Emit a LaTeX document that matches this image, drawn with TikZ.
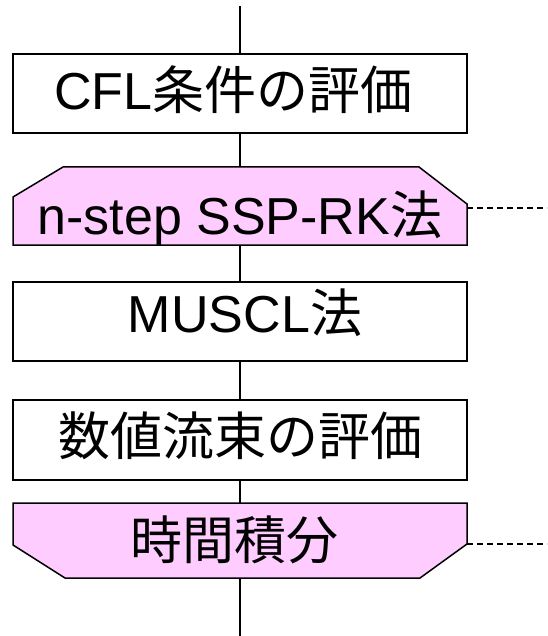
\documentclass[tikz,border=0pt]{standalone}
\usepackage{fontspec}
\setmainfont{Liberation Sans}
\newfontfamily\jp{Noto Sans CJK JP}
\definecolor{loopfill}{RGB}{255,204,255}
\tikzset{
  boxtext/.style={inner sep=0pt, minimum width=454pt, font=\fontsize{52}{60}\selectfont, text depth=0pt},
  proc/.style={boxtext, draw=black, line width=1.5pt, fill=white},
  loopshape/.style={draw=black, line width=1.5pt, fill=loopfill, line join=miter},
  flow/.style={draw=black, line width=1.2pt},
  loopdash/.style={draw=black, line width=1.3pt, dash pattern=on 6pt off 4pt}
}
\begin{document}
\begin{tikzpicture}[x=1pt,y=-1pt]
\useasboundingbox (0,0) rectangle (547,636);
% loop shapes
\draw[loopshape] (13,245) -- (13,197) -- (63,167) -- (419,167) -- (467,204) -- (467,245) -- cycle;
\draw[loopshape] (13,503) -- (467,503) -- (467,544) -- (420,578) -- (65,578) -- (13,545) -- cycle;
% nodes
\node[proc, minimum height=79pt, text height=33pt] (cfl) at (240,93.5) {\hspace*{-13pt}CFL{\jp 条件の評価}};
\node[boxtext, minimum height=78pt, text height=57pt] (ls) at (240,206) {n-step SSP-RK{\jp 法}};
\node[proc, minimum height=79pt, text height=22pt] (muscl) at (240,321.5) {\hspace*{10pt}MUSCL{\jp 法}};
\node[proc, minimum height=80pt, text height=30pt] (flux) at (240,440) {{\jp 数値流束の評価}};
\node[boxtext, minimum height=75pt, text height=38pt] (le) at (240,540.5) {\hspace*{-12pt}{\jp 時間積分}};
% coordinates
\coordinate (top) at (240,6);
\coordinate (bot) at (240,636);
\coordinate (lsR) at (467,208);
\coordinate (lsD) at (547,208);
\coordinate (leR) at (467,544);
\coordinate (leD) at (547,544);
% connectors
\draw[flow] (top) -- (cfl.north);
\draw[flow] (cfl.south) -- (ls.north);
\draw[flow] (ls.south) -- (muscl.north);
\draw[flow] (muscl.south) -- (flux.north);
\draw[flow] (flux.south) -- (le.north);
\draw[flow] (le.south) -- (bot);
\draw[loopdash] (lsR) -- (lsD);
\draw[loopdash] (leR) -- (leD);
\end{tikzpicture}
\end{document}
